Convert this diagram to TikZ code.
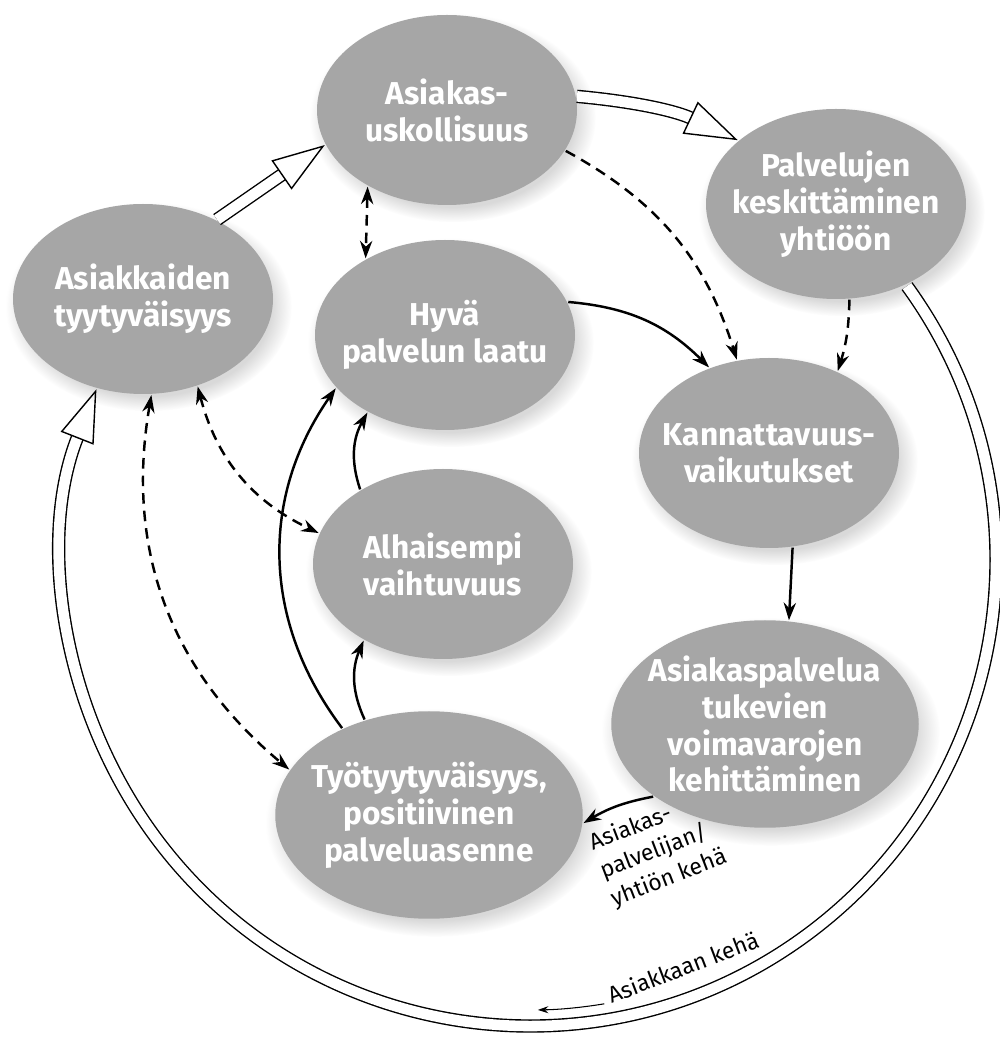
\documentclass[tikz,border=0pt]{standalone}
\usepackage{fontspec}
\setmainfont{Fira Sans}
\usepackage{tikz}
\usetikzlibrary{arrows.meta,shapes.geometric,shadows}
\definecolor{bubblegray}{RGB}{166,166,166}

\begin{document}
\begin{tikzpicture}[
  bubble/.style={ellipse, fill=bubblegray, text=white, align=center,
    minimum width=5.2cm, minimum height=3.8cm, inner xsep=-9pt, inner ysep=0pt,
    font=\fontsize{18}{21}\selectfont\bfseries,
    circular drop shadow={shadow xshift=3pt, shadow yshift=-4pt, opacity=.3}},
  bigbubble/.style={bubble, minimum width=6.15cm, minimum height=4.15cm},
  wide/.style={double, double distance=6pt, line width=.8pt,
    -{Triangle[open, length=30pt, width=20pt, line width=.8pt]}},
  hint/.style={dash pattern=on 6pt off 4pt, <->},
  ringtext/.style={font=\fontsize{13}{17}\selectfont, inner sep=0pt},
  ->,>={Stealth[length=10pt,width=7pt]},line width=1.4pt
]
\useasboundingbox (0,0) rectangle (20,20.74);

\node[bubble] (tyy) at (2.86,14.76) {Asiakkaiden\\tyytyväisyys};
\node[bubble] (usk) at (8.94,18.54) {Asiakas-\\uskollisuus};
\node[bubble] (pal) at (16.72,16.66) {Palvelujen\\keskittäminen\\yhtiöön};
\node[bubble] (laa) at (8.90,14.04) {Hyvä\\palvelun laatu};
\node[bubble] (kan) at (15.38,11.68) {Kannattavuus-\\vaikutukset};
\node[bubble] (vai) at (8.86,9.46) {Alhaisempi\\vaihtuvuus};
\node[bigbubble] (res) at (15.30,6.26) {Asiakaspalvelua\\tukevien\\voimavarojen\\kehittäminen};
\node[bigbubble] (tyo) at (8.58,4.44) {Työtyytyväisyys,\\positiivinen\\palveluasenne};
\coordinate (hub) at (10.6,9.54);

\node[ringtext, rotate=21, align=left, anchor=north west] (palvlbl) at (11.70,4.08) {Asiakas-\\palvelijan/\\yhtiön kehä};
\node[ringtext, rotate=21] (kehalbl) at (13.66,1.40) {Asiakkaan kehä};

\draw[wide] (tyy.47) -- (usk.196);
\draw[wide] (usk.6) to[bend left=10] (pal.147);
\draw[wide] ([shift={(36:9.32)}]hub) arc[start angle=36,end angle=-201.5,radius=9.32];

\draw[hint] (usk.224) -- (laa.136);
\draw[hint, ->] (usk.-19) to[bend left=22] (kan.109);
\draw[hint, ->] (pal.-82) to[bend left=8] (kan.50);
\draw[hint] (tyy.-58) to[bend right=25] (vai.166);
\draw[hint] (tyy.-85) to[bend right=30] (tyo.162);

\draw (laa.15) to[bend left=20] (kan.125);
\draw (kan.-76) -- (res.77);
\draw (res.213) to[bend right=10] (tyo.-3);
\draw (tyo.135) to[bend left=36] (laa.206);
\draw (vai.138) to[bend left=24] (laa.225);
\draw (tyo.124) to[bend left=24] (vai.224);
\draw[line width=.6pt, -{Stealth[length=6pt,width=4pt]}] ([shift={(-80.5:9)}]hub) arc[start angle=-80.5,end angle=-89,radius=9];
\end{tikzpicture}
\end{document}
